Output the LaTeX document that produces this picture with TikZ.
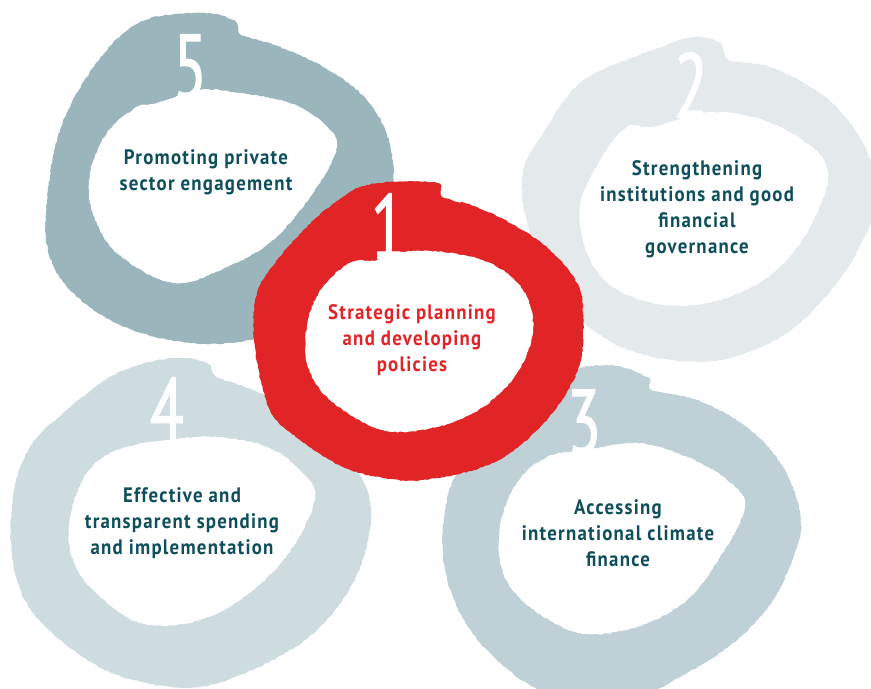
\documentclass[tikz,border=0pt]{standalone}
\usepackage{fontspec}
\usetikzlibrary{decorations.pathmorphing}
\newfontfamily\labfont[FakeStretch=0.9,LetterSpace=6]{PT Sans}
\newfontfamily\numfont[FakeStretch=0.68,FakeBold=1.2]{PT Sans}
\definecolor{cfive}{HTML}{9AB5BC}
\definecolor{ctwo}{HTML}{E4E9EB}
\definecolor{cthree}{HTML}{BFD1D6}
\definecolor{cfour}{HTML}{CEDCDF}
\definecolor{cred}{HTML}{E12426}
\definecolor{cteal}{HTML}{0E4F5B}
\begin{document}
\begin{tikzpicture}[x=1bp,y=-1bp,
  lab/.style={align=center, font=\labfont\bfseries\fontsize{21}{26}\selectfont, text=cteal, inner sep=0},
  redlab/.style={lab, text=cred},
  num/.style={font=\numfont\fontsize{92}{92}\selectfont, text=white, inner sep=0},
  rough/.style={decorate, decoration={random steps, segment length=2.5pt, amplitude=0.6pt}},
  hole/.style={fill=white, rough}]
\pgfmathsetseed{7}
\useasboundingbox (0,0) rectangle (871,689);
\begin{scope}
\clip (0,0) rectangle (871,689);
% ring 5
\fill[cfive, rough] plot[smooth cycle, tension=0.6] coordinates {(47,200) (60,130) (95,65) (140,22) (200,13) (233,20) (242,35) (275,45) (325,68) (367,100) (390,145) (392,200) (375,260) (330,310) (260,338) (190,343) (120,325) (70,290) (48,250)};
\fill[hole] plot[smooth cycle, tension=0.6] coordinates {(137,107) (107,133) (90,173) (93,213) (117,253) (173,283) (227,267) (273,240) (313,193) (337,147) (323,123) (290,103) (240,93) (200,90) (157,103)};
% ring 2
\fill[ctwo, rough] plot[smooth cycle, tension=0.6] coordinates {(597,72) (653,50) (693,37) (720,43) (730,60) (770,67) (820,93) (853,127) (872,165) (876,205) (863,240) (837,283) (787,333) (720,360) (653,357) (603,337) (563,300) (530,233) (523,173) (547,127) (570,93)};
\fill[hole] plot[smooth cycle, tension=0.6] coordinates {(627,127) (600,160) (580,207) (587,253) (613,287) (663,305) (720,300) (773,273) (810,227) (828,173) (803,140) (753,117) (703,113) (653,127)};
% ring 4
\fill[cfour, rough] plot[smooth cycle, tension=0.6] coordinates {(67,410) (117,373) (173,358) (207,363) (217,377) (253,390) (300,413) (340,447) (367,490) (370,530) (353,583) (317,630) (267,663) (200,687) (133,680) (83,657) (33,613) (13,563) (13,497) (30,447)};
\fill[hole] plot[smooth cycle, tension=0.6] coordinates {(117,450) (87,473) (70,517) (72,557) (93,590) (140,623) (200,620) (253,590) (293,547) (315,497) (300,470) (267,447) (217,437) (167,440)};
% ring 3
\fill[cthree, rough] plot[smooth cycle, tension=0.6] coordinates {(487,423) (553,377) (607,365) (647,377) (653,390) (697,400) (747,427) (783,467) (800,513) (797,547) (773,600) (737,640) (687,673) (637,695) (553,695) (497,660) (460,613) (443,557) (447,500) (460,467)};
\fill[hole] plot[smooth cycle, tension=0.6] coordinates {(547,457) (517,483) (500,527) (503,573) (530,607) (580,633) (637,627) (687,600) (720,557) (745,507) (727,480) (687,457) (637,443) (587,450)};
% ring 1
\fill[cred, rough] plot[smooth cycle, tension=0.6] coordinates {(360,187) (390,182) (437,183) (443,197) (477,207) (517,227) (550,250) (577,283) (583,313) (580,363) (557,407) (523,443) (483,467) (423,480) (383,478) (343,467) (300,440) (270,410) (255,347) (257,293) (283,253) (317,217) (343,197)};
\fill[hole] plot[smooth cycle, tension=0.6] coordinates {(350,263) (323,287) (308,320) (307,363) (330,400) (383,430) (437,427) (483,407) (517,373) (533,330) (523,290) (490,263) (443,252) (400,252) (377,260)};
\end{scope}
% numbers
\node[num] (n5) at (190,67) {5};
\node[num] (n2) at (691,85) {2};
\node[num] (n1) at (388,226) {1};
\node[num] (n4) at (167,410) {4};
\node[num] (n3) at (584,422) {3};
% labels
\node[lab] (t5) at (206,172.5) {Promoting private\\sector engagement};
\node[lab] (t2) at (697,209.5) {Strengthening\\institutions and good\\financial\\governance};
\node[redlab] (t1) at (412,340.5) {Strategic planning\\and developing\\policies};
\node[lab] (t4) at (182,523) {Effective and\\transparent spending\\and implementation};
\node[lab] (t3) at (618,533.5) {Accessing\\international climate\\finance};
\end{tikzpicture}
\end{document}
